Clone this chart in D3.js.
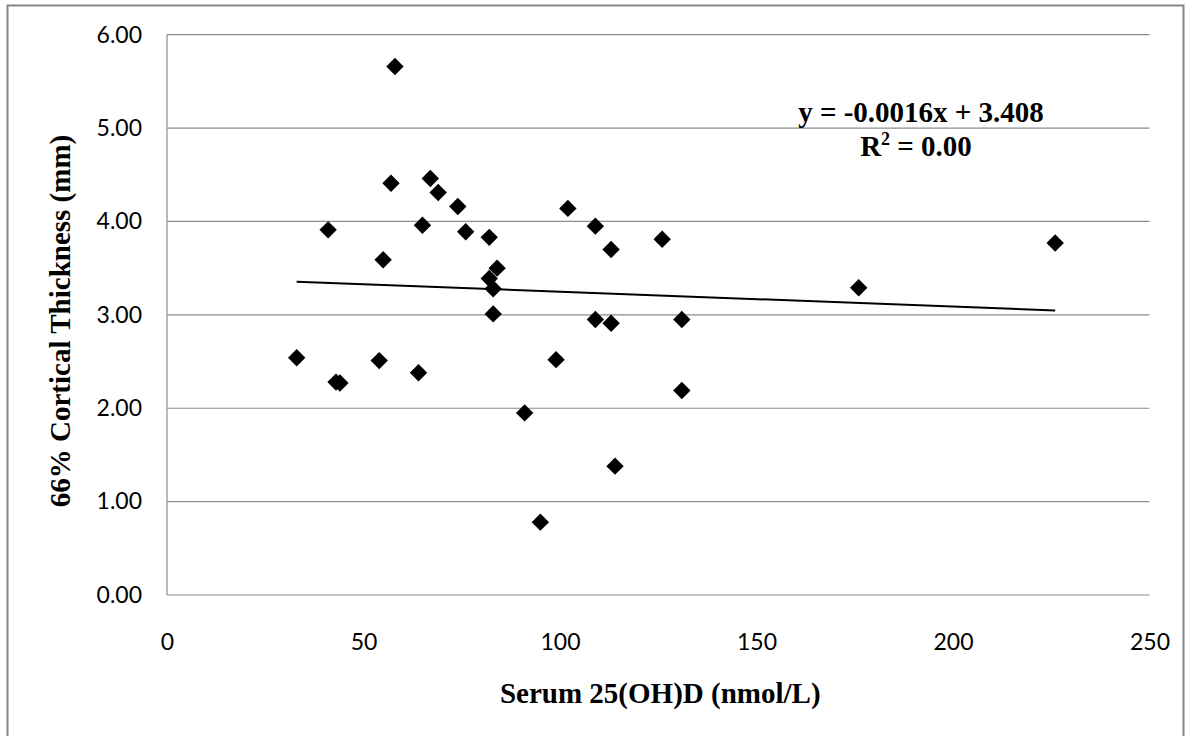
<!DOCTYPE html>
<html>
<head>
<meta charset="utf-8">
<script src="https://cdn.jsdelivr.net/npm/d3@7"></script>
<style>
  html, body { margin: 0; padding: 0; background: #fff; }
  svg { display: block; }
</style>
</head>
<body>
<svg id="chart" width="1191" height="736"></svg>
<script>
// ---- data ----
const serum = [58, 57, 67, 69, 74, 41, 65, 76, 82, 55, 84, 82, 83, 83, 102, 109, 113, 126, 109, 113,
               33, 43, 44, 54, 64, 99, 91, 114, 95, 131, 131, 176, 226];
const thickness = [5.66, 4.41, 4.46, 4.31, 4.16, 3.91, 3.96, 3.89, 3.83, 3.59, 3.50, 3.39, 3.28, 3.01, 4.14, 3.95, 3.70, 3.81, 2.95, 2.91,
                   2.54, 2.28, 2.27, 2.51, 2.38, 2.52, 1.95, 1.38, 0.78, 2.95, 2.19, 3.29, 3.77];
const xTicks = [0, 50, 100, 150, 200, 250];
const yTicks = [0, 1, 2, 3, 4, 5, 6];
const slope = -0.0016;
const intercept = 3.408;
const eqLine1 = "y = -0.0016x + 3.408";
const r2Value = "0.00";
const xTitle = "Serum 25(OH)D (nmol/L)";
const yTitle = "66% Cortical Thickness (mm)";

// ---- layout ----
const svg = d3.select("#chart");
const plot = { left: 167, right: 1149.5, top: 34.7, bottom: 595 };

const x = d3.scaleLinear().domain([0, 250]).range([plot.left, plot.right]);
const y = d3.scaleLinear().domain([0, 6]).range([plot.bottom, plot.top]);

// outer chart border
svg.append("rect")
  .attr("x", 7.5).attr("y", 5.5)
  .attr("width", 1176).attr("height", 760)
  .attr("fill", "none").attr("stroke", "#868686").attr("stroke-width", 2);

// gridlines (horizontal)
svg.append("g")
  .selectAll("line")
  .data(yTicks)
  .join("line")
  .attr("x1", plot.left).attr("x2", plot.right)
  .attr("y1", d => y(d)).attr("y2", d => y(d))
  .attr("stroke", "#8c8c8c").attr("stroke-width", 1.2);

// y axis line
svg.append("line")
  .attr("x1", plot.left).attr("x2", plot.left)
  .attr("y1", plot.top).attr("y2", plot.bottom)
  .attr("stroke", "#8c8c8c").attr("stroke-width", 1.2);

// y axis labels
const yAxis = d3.axisLeft(y).tickValues(yTicks).tickFormat(d3.format(".2f")).tickSize(0).tickPadding(25);
const gy = svg.append("g").attr("transform", `translate(${plot.left},0)`).call(yAxis);
gy.select(".domain").remove();
gy.selectAll("text")
  .attr("font-family", "Lato, 'Open Sans', sans-serif")
  .attr("font-size", 23)
  .attr("fill", "#000");

// x axis labels
const xAxis = d3.axisBottom(x).tickValues(xTicks).tickFormat(d3.format("d")).tickSize(0).tickPadding(39);
const gx = svg.append("g").attr("transform", `translate(0,${plot.bottom})`).call(xAxis);
gx.select(".domain").remove();
gx.selectAll("text")
  .attr("font-family", "Lato, 'Open Sans', sans-serif")
  .attr("font-size", 23)
  .attr("fill", "#000");

// trendline
const xMin = d3.min(serum), xMax = d3.max(serum);
svg.append("line")
  .attr("x1", x(xMin)).attr("y1", y(slope * xMin + intercept))
  .attr("x2", x(xMax)).attr("y2", y(slope * xMax + intercept))
  .attr("stroke", "#000").attr("stroke-width", 2);

// points (diamonds)
const r = 8.7;
const diamond = `M0,${-r}L${r},0L0,${r}L${-r},0Z`;
svg.append("g")
  .selectAll("path")
  .data(serum.map((v, i) => [v, thickness[i]]))
  .join("path")
  .attr("d", diamond)
  .attr("transform", d => `translate(${x(d[0])},${y(d[1])})`)
  .attr("fill", "#000");

// axis titles
const serif = "'Liberation Serif', 'Times New Roman', serif";
svg.append("text")
  .attr("x", (plot.left + plot.right) / 2 + 2)
  .attr("y", 703)
  .attr("text-anchor", "middle")
  .attr("font-family", serif).attr("font-weight", "bold").attr("font-size", 29)
  .text(xTitle);

svg.append("text")
  .attr("transform", `translate(70,321) rotate(-90)`)
  .attr("text-anchor", "middle")
  .attr("font-family", serif).attr("font-weight", "bold").attr("font-size", 29)
  .text(yTitle);

// regression equation
svg.append("text")
  .attr("x", 921).attr("y", 122)
  .attr("text-anchor", "middle")
  .attr("font-family", serif).attr("font-weight", "bold").attr("font-size", 29)
  .text(eqLine1);

const r2 = svg.append("text")
  .attr("x", 916).attr("y", 156)
  .attr("text-anchor", "middle")
  .attr("font-family", serif).attr("font-weight", "bold").attr("font-size", 29);
r2.append("tspan").text("R");
r2.append("tspan").attr("font-size", 18).attr("dy", -11).text("2");
r2.append("tspan").attr("dy", 11).text(" = " + r2Value);
</script>
</body>
</html>
